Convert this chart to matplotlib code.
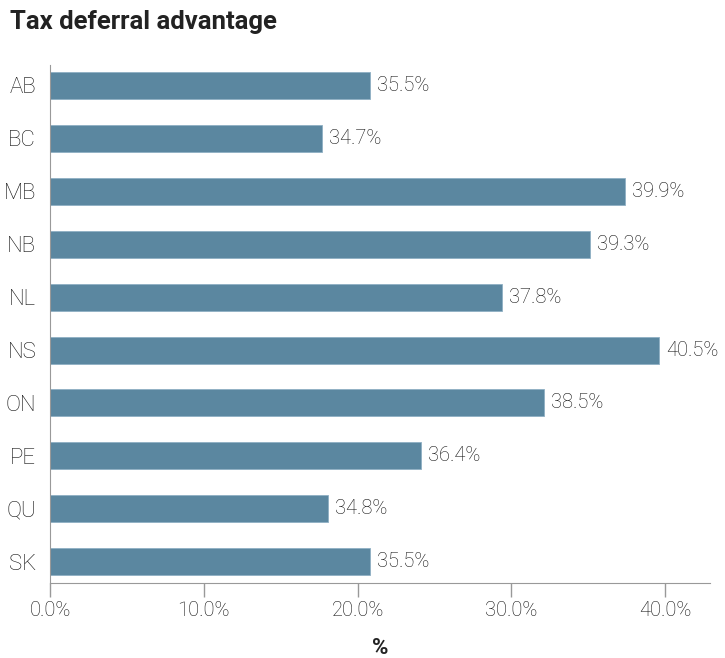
import matplotlib
matplotlib.use("Agg")
import matplotlib.pyplot as plt

provinces = ["AB", "BC", "MB", "NB", "NL", "NS", "ON", "PE", "QU", "SK"]
bar_values = [20.8, 17.7, 37.4, 35.1, 29.4, 39.6, 32.1, 24.1, 18.1, 20.8]
value_labels = ["35.5%", "34.7%", "39.9%", "39.3%", "37.8%", "40.5%", "38.5%", "36.4%", "34.8%", "35.5%"]
x_ticks = [0, 10, 20, 30, 40]
x_tick_labels = ["0.0%", "10.0%", "20.0%", "30.0%", "40.0%"]

plt.rcParams['font.family'] = ['Roboto', 'DejaVu Sans']
fig = plt.figure(figsize=(7.25, 6.58), dpi=100)
ax = fig.add_axes([0.069, 0.114, 0.910, 0.787])

bar_color = "#5b87a0"
text_color = "#111111"
ypos = list(range(len(provinces)))
ax.barh(ypos, bar_values, height=0.51, color=bar_color, edgecolor="#8fb0c4", linewidth=0.6)
for y, v, lab in zip(ypos, bar_values, value_labels):
    ax.annotate(lab, (v, y), xytext=(5, 0), textcoords="offset points",
                va="center", ha="left", fontsize=14.5, color=text_color, fontweight="light")

ax.set_ylim(len(provinces) - 0.6, -0.38)
ax.set_xlim(0, 42.9)
ax.set_yticks(ypos)
ax.set_yticklabels(provinces, fontsize=16, color=text_color, fontweight="light")
ax.set_xticks(x_ticks)
ax.set_xticklabels(x_tick_labels, fontsize=14.5, color=text_color, fontweight="light")
ax.tick_params(axis="y", length=0, pad=10)
ax.tick_params(axis="x", length=10, width=1, color="#999999", pad=3, direction="out")
for s in ["top", "right"]:
    ax.spines[s].set_visible(False)
ax.spines["left"].set_color("#999999")
ax.spines["bottom"].set_color("#999999")
ax.set_xlabel("%", fontsize=16, fontweight="bold", color="#222222", labelpad=12)

fig.text(0.0138, 0.966, "Tax deferral advantage", fontsize=18.5, fontweight="bold",
         color="#222222", ha="left", va="center")

fig.savefig("out.png", dpi=100)
